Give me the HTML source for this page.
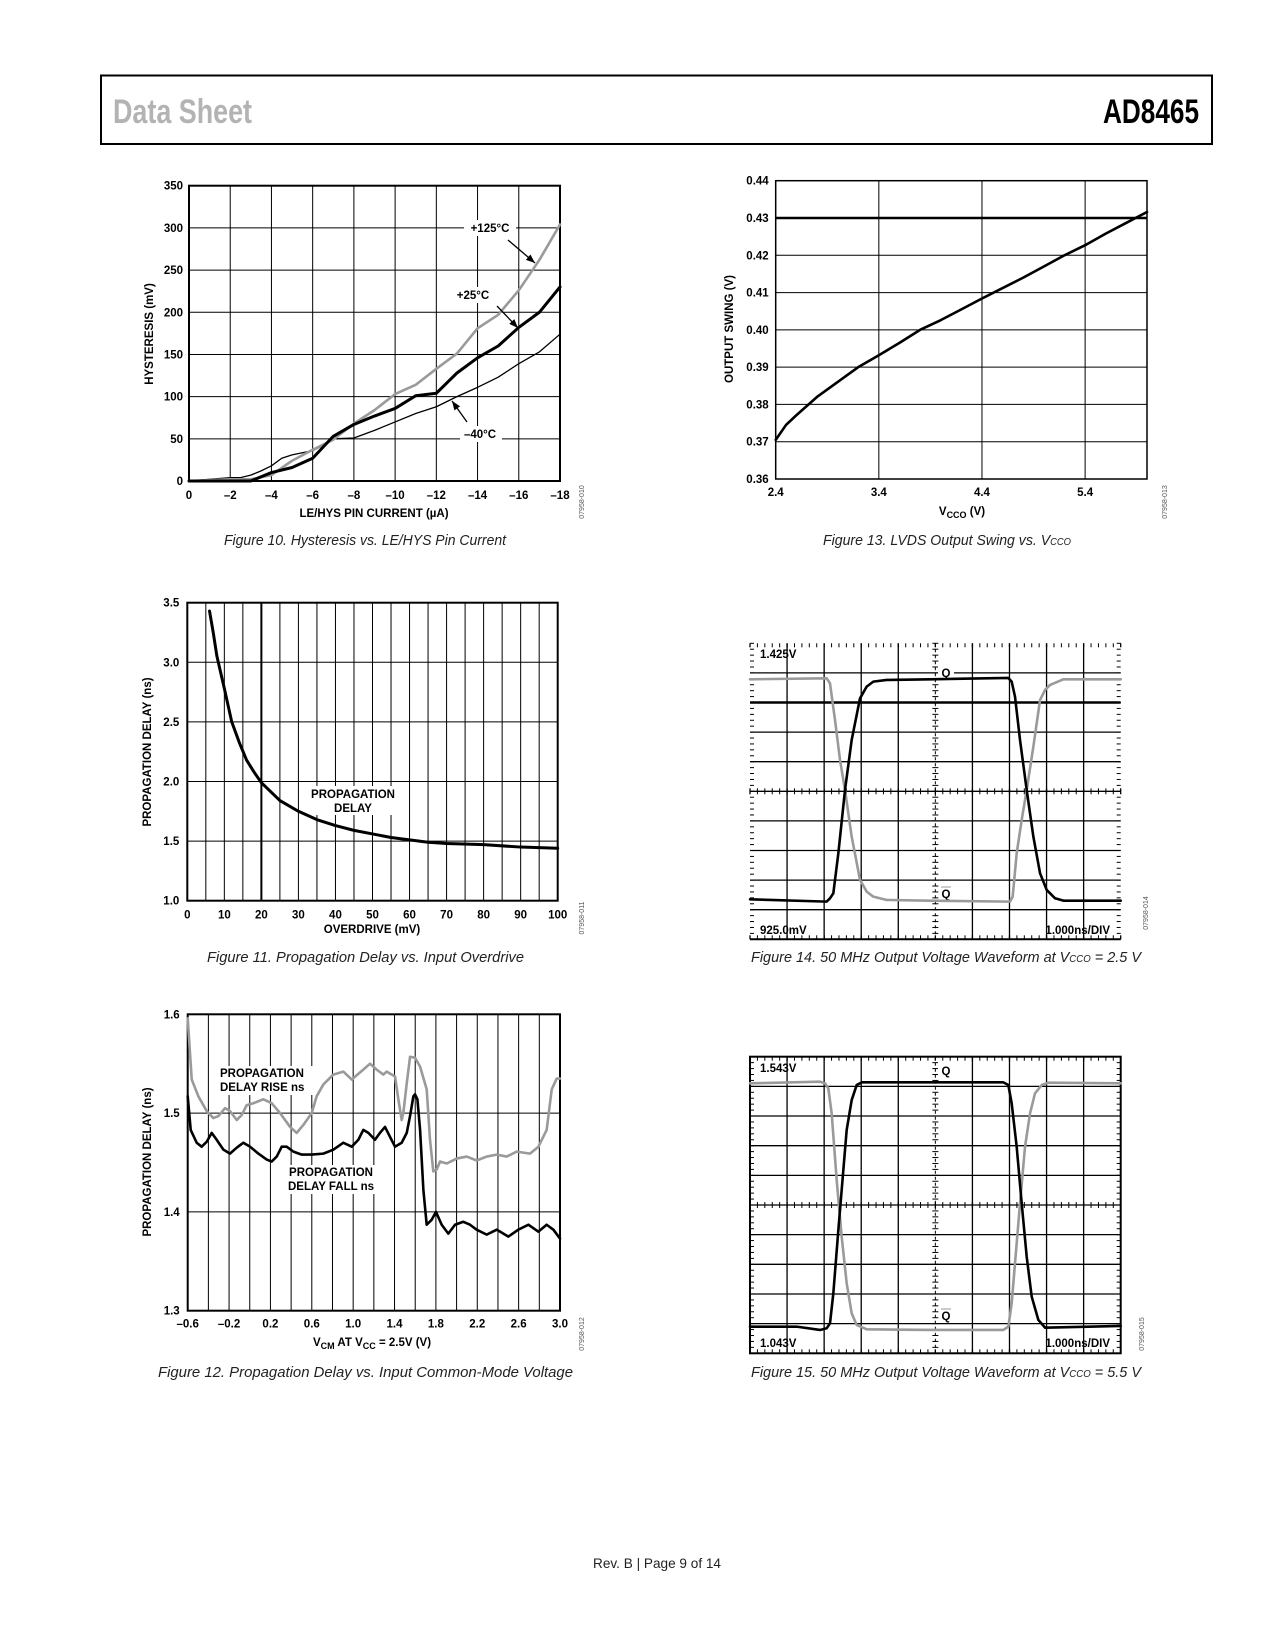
<!DOCTYPE html>
<html><head><meta charset="utf-8"><title>AD8465 Data Sheet page 9</title>
<style>
html,body{margin:0;padding:0;background:#fff;}
svg{display:block;}
.tk{font-family:"Liberation Sans",sans-serif;font-weight:bold;font-size:11.5px;fill:#000;}
.ttl{font-family:"Liberation Sans",sans-serif;font-weight:bold;font-size:11.5px;fill:#000;}
.cap{font-family:"Liberation Sans Narrow","Liberation Sans",sans-serif;font-style:italic;font-size:15px;fill:#222;}
.pn{font-family:"Liberation Sans",sans-serif;font-size:7px;fill:#555;}
</style></head>
<body>
<svg id="page" width="1275" height="1650" viewBox="0 0 1275 1650" xmlns="http://www.w3.org/2000/svg">
  <rect x="0" y="0" width="1275" height="1650" fill="#fff"/>
  <g>
    <rect x="101" y="75.5" width="1111" height="68.5" fill="none" stroke="#000" stroke-width="2"/>
    <text x="113" y="123" font-family="Liberation Sans Narrow, Liberation Sans, sans-serif" font-weight="bold" font-size="34" fill="#b3b3b3" textLength="139" lengthAdjust="spacingAndGlyphs">Data Sheet</text>
    <text x="1103" y="123" font-family="Liberation Sans Narrow, Liberation Sans, sans-serif" font-weight="bold" font-size="34" fill="#000" textLength="96" lengthAdjust="spacingAndGlyphs">AD8465</text>
  </g>

  <g id="fig10"></g>
  <g id="fig13"></g>
  <g id="fig11"></g>
  <g id="fig12"></g>
  <g id="fig14"></g>
  <g id="fig15"></g>

  <!-- axis titles -->
  <text class="ttl" x="0" y="0" text-anchor="middle" transform="translate(153,334) rotate(-90)">HYSTERESIS (mV)</text>
  <text class="ttl" x="374" y="517" text-anchor="middle">LE/HYS PIN CURRENT (µA)</text>
  <text class="ttl" x="0" y="0" text-anchor="middle" transform="translate(733,329) rotate(-90)">OUTPUT SWING (V)</text>
  <text class="ttl" x="962" y="515" text-anchor="middle">V<tspan font-size="9" dy="3">CCO</tspan><tspan dy="-3"> (V)</tspan></text>
  <text class="ttl" x="0" y="0" text-anchor="middle" transform="translate(151,752) rotate(-90)">PROPAGATION DELAY (ns)</text>
  <text class="ttl" x="372" y="933" text-anchor="middle">OVERDRIVE (mV)</text>
  <text class="ttl" x="0" y="0" text-anchor="middle" transform="translate(151,1162) rotate(-90)">PROPAGATION DELAY (ns)</text>
  <text class="ttl" x="372" y="1346" text-anchor="middle">V<tspan font-size="9" dy="3">CM</tspan><tspan dy="-3"> AT V</tspan><tspan font-size="9" dy="3">CC</tspan><tspan dy="-3"> = 2.5V (V)</tspan></text>

  <!-- captions -->
  <text class="cap" x="224" y="545" textLength="282" lengthAdjust="spacingAndGlyphs">Figure 10. Hysteresis vs. LE/HYS Pin Current</text>
  <text class="cap" x="823" y="545" textLength="248" lengthAdjust="spacingAndGlyphs">Figure 13. LVDS Output Swing vs. V<tspan font-size="10">CCO</tspan></text>
  <text class="cap" x="207" y="962" textLength="317" lengthAdjust="spacingAndGlyphs">Figure 11. Propagation Delay vs. Input Overdrive</text>
  <text class="cap" x="751" y="962" textLength="390" lengthAdjust="spacingAndGlyphs">Figure 14. 50 MHz Output Voltage Waveform at V<tspan font-size="10">CCO</tspan> = 2.5 V</text>
  <text class="cap" x="158" y="1377" textLength="415" lengthAdjust="spacingAndGlyphs">Figure 12. Propagation Delay vs. Input Common-Mode Voltage</text>
  <text class="cap" x="751" y="1377" textLength="390" lengthAdjust="spacingAndGlyphs">Figure 15. 50 MHz Output Voltage Waveform at V<tspan font-size="10">CCO</tspan> = 5.5 V</text>

  <!-- part codes -->
  <text class="pn" transform="translate(584,502) rotate(-90)" text-anchor="middle">07958-010</text>
  <text class="pn" transform="translate(1167,502) rotate(-90)" text-anchor="middle">07958-013</text>
  <text class="pn" transform="translate(584,918) rotate(-90)" text-anchor="middle">07958-011</text>
  <text class="pn" transform="translate(1148,913) rotate(-90)" text-anchor="middle">07958-014</text>
  <text class="pn" transform="translate(584,1334) rotate(-90)" text-anchor="middle">07958-012</text>
  <text class="pn" transform="translate(1144,1334) rotate(-90)" text-anchor="middle">07958-015</text>

  <text x="657" y="1568" text-anchor="middle" font-family="Liberation Sans Narrow, Liberation Sans, sans-serif" font-size="14" fill="#222" textLength="128" lengthAdjust="spacingAndGlyphs">Rev. B | Page 9 of 14</text>
</svg>

<script>
// ---------- Figure 10 data ----------
const f10Current125 = [0,-2,-3,-4,-5,-6,-7,-8,-9,-10,-11,-12,-13,-14,-15,-16,-17,-18];
const f10Hys125 = [0,2,2,7,24,37,49,68,84,103,114,133,151,181,197,226,262,304];
const f10Current25 = [0,-1,-2,-3,-3.5,-4,-5,-6,-6.5,-7,-8,-9,-10,-11,-12,-13,-14,-15,-16,-17,-18];
const f10Hys25 = [0,0,0,0,5,10,16,27,40,53,67,77,86,101,104,128,146,160,182,200,230];
const f10CurrentM40 = [0,-1,-2,-2.5,-3,-3.5,-4,-4.5,-5,-6,-6.5,-7,-8,-9,-10,-11,-12,-13,-14,-15,-16,-17,-18];
const f10HysM40 = [0,2,4,4,7,12,18,27,31,36,42,50,51,60,70,80,88,100,111,123,139,153,174];
const f10XTicks = [0,-2,-4,-6,-8,-10,-12,-14,-16,-18];
const f10YTicks = [0,50,100,150,200,250,300,350];

// ---------- Figure 13 data ----------
const f13Vcco = [2.4,2.5,2.6,2.8,3.0,3.2,3.4,3.6,3.8,4.0,4.2,4.4,4.6,4.8,5.0,5.2,5.4,5.6,5.8,6.0];
const f13Swing = [0.3705,0.3745,0.3771,0.382,0.386,0.390,0.3932,0.3965,0.400,0.4026,0.4055,0.4084,0.4112,0.4140,0.4170,0.420,0.4227,0.4258,0.4287,0.4316];
const f13XTicks = [2.4,3.4,4.4,5.4];
const f13YTicks = [0.36,0.37,0.38,0.39,0.40,0.41,0.42,0.43,0.44];

// ---------- Figure 11 data ----------
const f11Overdrive = [6,7,8,10,12,14,16,18,20,25,30,35,40,45,50,55,60,65,70,80,90,100];
const f11Delay = [3.43,3.25,3.05,2.78,2.50,2.33,2.18,2.08,1.99,1.84,1.75,1.68,1.63,1.59,1.56,1.53,1.51,1.49,1.48,1.47,1.45,1.44];
const f11XTicks = [0,10,20,30,40,50,60,70,80,90,100];
const f11YTicks = [1.0,1.5,2.0,2.5,3.0,3.5];

// ---------- Figure 12 data ----------
const f12RiseV = [-0.6,-0.561,-0.497,-0.416,-0.352,-0.303,-0.239,-0.191,-0.126,-0.078,-0.03,0.035,0.132,0.212,0.293,0.39,0.454,0.518,0.599,0.647,0.712,0.808,0.905,0.986,1.098,1.163,1.227,1.292,1.324,1.405,1.437,1.469,1.485,1.518,1.55,1.598,1.647,1.711,1.743,1.775,1.808,1.84,1.904,2.001,2.098,2.194,2.291,2.388,2.484,2.581,2.71,2.791,2.871,2.92,2.968,3.0];
const f12Rise = [1.596,1.534,1.517,1.502,1.495,1.497,1.505,1.502,1.493,1.498,1.508,1.510,1.514,1.51,1.5,1.486,1.48,1.488,1.5,1.517,1.529,1.539,1.542,1.534,1.544,1.55,1.544,1.539,1.542,1.537,1.514,1.493,1.5,1.53,1.557,1.556,1.547,1.524,1.473,1.441,1.443,1.451,1.449,1.454,1.456,1.452,1.456,1.458,1.456,1.461,1.459,1.466,1.483,1.524,1.535,1.535];
const f12FallV = [-0.6,-0.571,-0.513,-0.465,-0.416,-0.368,-0.32,-0.255,-0.191,-0.126,-0.062,0.003,0.083,0.164,0.212,0.261,0.309,0.357,0.422,0.502,0.599,0.712,0.808,0.905,0.986,1.05,1.098,1.147,1.211,1.259,1.308,1.356,1.405,1.469,1.518,1.55,1.582,1.598,1.621,1.647,1.679,1.711,1.759,1.801,1.856,1.92,1.985,2.065,2.13,2.194,2.291,2.388,2.501,2.597,2.694,2.791,2.871,2.936,3.0];
const f12Fall = [1.517,1.483,1.47,1.466,1.471,1.48,1.473,1.463,1.459,1.465,1.47,1.466,1.459,1.453,1.451,1.456,1.466,1.466,1.461,1.458,1.458,1.459,1.463,1.47,1.466,1.473,1.483,1.48,1.473,1.48,1.486,1.476,1.466,1.47,1.48,1.497,1.517,1.519,1.514,1.483,1.422,1.387,1.392,1.4,1.387,1.378,1.387,1.39,1.387,1.382,1.377,1.382,1.375,1.382,1.387,1.38,1.387,1.382,1.373];
const f12XTicks = [-0.6,-0.2,0.2,0.6,1.0,1.4,1.8,2.2,2.6,3.0];
const f12XTickText = ['–0.6','–0.2','0.2','0.6','1.0','1.4','1.8','2.2','2.6','3.0'];
const f12YTicks = [1.3,1.4,1.5,1.6];

// ---------- Figure 14 data (time in ns from left edge, level in divisions) ----------
const f14QTime = [0,2.068,2.158,2.248,2.383,2.563,2.743,2.968,3.147,3.327,3.687,4.856,5.755,6.969,7.059,7.149,7.284,7.464,7.644,7.824,8.004,8.228,8.453,10];
const f14QLevel = [1.351,1.273,1.385,1.554,2.905,5.045,6.734,8.142,8.536,8.705,8.761,8.784,8.806,8.829,8.705,8.198,6.734,5.045,3.468,2.23,1.667,1.385,1.306,1.306];
const f14QbTime = [0,2.068,2.158,2.293,2.428,2.563,2.743,2.968,3.147,3.327,3.687,4.856,7.014,7.086,7.194,7.329,7.464,7.644,7.824,7.959,8.094,8.453,10];
const f14QbLevel = [8.784,8.818,8.649,7.41,6.059,5.045,3.468,2.005,1.61,1.441,1.329,1.306,1.273,1.441,2.905,4.032,5.045,6.509,8.086,8.423,8.592,8.784,8.784];

// ---------- Figure 15 data ----------
const f15QTime = [0,1.259,1.888,2.068,2.158,2.248,2.383,2.518,2.608,2.743,2.878,3.013,4.856,6.835,6.969,7.059,7.194,7.329,7.464,7.599,7.779,7.959,10];
const f15QLevel = [0.899,0.899,0.787,0.843,1.011,2.022,4.157,6.18,7.528,8.539,9.045,9.135,9.135,9.135,9.045,8.427,6.966,5.056,3.258,1.91,1.124,0.865,0.921];
const f15QbTime = [0,1.888,2.023,2.113,2.203,2.338,2.473,2.608,2.743,2.878,3.147,4.856,6.835,6.969,7.059,7.149,7.284,7.419,7.554,7.689,7.869,8.049,10];
const f15QbLevel = [9.101,9.157,9.101,8.933,8.09,5.843,3.933,2.36,1.348,0.955,0.809,0.787,0.787,0.899,1.685,3.034,5.056,6.966,8.09,8.764,9.045,9.124,9.101];

const NS = 'http://www.w3.org/2000/svg';
function mk(tag, attrs, parent){
  const e = document.createElementNS(NS, tag);
  for (const k in attrs) e.setAttribute(k, attrs[k]);
  parent.appendChild(e);
  return e;
}
function lin(d0,d1,r0,r1){ return v => r0 + (v-d0)*(r1-r0)/(d1-d0); }
function gridV(g, x, y0, y1, w, dash){
  const l = mk('line',{x1:x,x2:x,y1:y0,y2:y1,stroke:'#000','stroke-width':w},g);
  if (dash) l.setAttribute('stroke-dasharray', dash);
  
  
  return l;
}
function gridH(g, y, x0, x1, w){
  const l = mk('line',{x1:x0,x2:x1,y1:y,y2:y,stroke:'#000','stroke-width':w},g);
  
  
  return l;
}
function series(g, xs, ys, sx, sy, color, w, name){
  let d = '';
  for (let i=0;i<xs.length;i++) d += (i?'L':'M') + sx(xs[i]).toFixed(2) + ',' + sy(ys[i]).toFixed(2);
  const p = mk('path',{d:d,fill:'none',stroke:color,'stroke-width':w,'stroke-linejoin':'round','stroke-linecap':'round'},g);
  
  
  return p;
}
function label(g, x, y, txt, anchor, cls, name){
  const t = mk('text',{x:x,y:y,'text-anchor':anchor,'class':cls||'tk'},g);
  t.textContent = txt;
  
  
  return t;
}
function frame(g, x0, y0, x1, y1, w){
  const r = mk('rect',{x:x0,y:y0,width:x1-x0,height:y1-y0,fill:'none',stroke:'#000','stroke-width':w},g);
  
  
}
function whiteBox(g, x, y, w, h){
  const r = mk('rect',{x:x,y:y,width:w,height:h,fill:'#fff'},g);
  
  
}
function fmtMinus(v){ return v < 0 ? '–' + Math.abs(v) : String(v); }

// ===== Figure 10 =====
(function(){
  const g = document.getElementById('fig10');
  const L=189,R=560,T=185.7,B=481;
  const sx = lin(0,-18,L,R), sy = lin(0,350,B,T);
  for (let v=-2; v>-18; v-=2) gridV(g, sx(v), T, B, 1);
  f10YTicks.forEach(v => { if (v>0 && v<350) gridH(g, sy(v), L, R, 1); });
  frame(g, L, T, R, B, 2);
  f10YTicks.forEach(v => label(g, L-6, sy(v)+4, String(v), 'end', 'tk', 'y-tick-label'));
  f10XTicks.forEach(v => label(g, sx(v), B+18, fmtMinus(v), 'middle', 'tk', 'x-tick-label'));
  whiteBox(g, 464, 220, 52, 16);
  label(g, 490, 232, '+125°C', 'middle', 'tk', 'label-plus125c');
  whiteBox(g, 452, 287, 42, 16);
  label(g, 473, 299, '+25°C', 'middle', 'tk', 'label-plus25c');
  whiteBox(g, 460, 426, 42, 16);
  label(g, 480, 438, '–40°C', 'middle', 'tk', 'label-minus40c');
  series(g, f10CurrentM40, f10HysM40, sx, sy, '#000', 1.3, 'series-minus40c');
  series(g, f10Current125, f10Hys125, sx, sy, '#9a9a9a', 2.6, 'series-plus125c');
  series(g, f10Current25, f10Hys25, sx, sy, '#000', 3, 'series-plus25c');
  const arrows = [[508,240,535,263],[497,306,518,328],[467,422,452,401]];
  arrows.forEach(a => {
    const ln = mk('line',{x1:a[0],y1:a[1],x2:a[2],y2:a[3],stroke:'#000','stroke-width':1.3},g);
    
    
    const ang = Math.atan2(a[3]-a[1], a[2]-a[0]);
    const hx = a[2], hy = a[3], s = 9, wd = 3.5;
    const bx = hx - s*Math.cos(ang), by = hy - s*Math.sin(ang);
    const pts = hx+','+hy+' '+(bx+wd*Math.sin(ang))+','+(by-wd*Math.cos(ang))+' '+(bx-wd*Math.sin(ang))+','+(by+wd*Math.cos(ang));
    const hd = mk('polygon',{points:pts,fill:'#000'},g);
    
    
  });
})();

// ===== Figure 13 =====
(function(){
  const g = document.getElementById('fig13');
  const L=775.7,R=1147,T=180.7,B=479;
  const sx = lin(2.4,6.0,L,R), sy = lin(0.36,0.44,B,T);
  f13XTicks.forEach(v => { if (v>2.4) gridV(g, sx(v), T, B, 1); });
  f13YTicks.forEach((v,i) => { if (i>0 && i<f13YTicks.length-1) gridH(g, sy(v), L, R, Math.abs(v-0.43)<1e-6 ? 2.5 : 1); });
  frame(g, L, T, R, B, 1.5);
  f13YTicks.forEach(v => label(g, L-7, sy(v)+4, v.toFixed(2), 'end', 'tk', 'y-tick-label'));
  f13XTicks.forEach(v => label(g, sx(v), B+17, v.toFixed(1), 'middle', 'tk', 'x-tick-label'));
  series(g, f13Vcco, f13Swing, sx, sy, '#000', 2.6, 'series-output-swing');
})();

// ===== Figure 11 =====
(function(){
  const g = document.getElementById('fig11');
  const L=187.3,R=557.7,T=602.7,B=900.7;
  const sx = lin(0,100,L,R), sy = lin(1,3.5,B,T);
  for (let v=5; v<100; v+=5) gridV(g, sx(v), T, B, v===20 ? 2 : 1);
  f11YTicks.forEach((v,i) => { if (i>0 && i<f11YTicks.length-1) gridH(g, sy(v), L, R, 1); });
  frame(g, L, T, R, B, 2);
  f11YTicks.forEach(v => label(g, L-8, sy(v)+4, v.toFixed(1), 'end', 'tk', 'y-tick-label'));
  f11XTicks.forEach(v => label(g, sx(v), B+18, String(v), 'middle', 'tk', 'x-tick-label'));
  whiteBox(g, 303, 786, 100, 29);
  label(g, 353, 798, 'PROPAGATION', 'middle', 'tk', 'label-propagation-delay');
  label(g, 353, 812, 'DELAY', 'middle', 'tk', 'label-propagation-delay-line2');
  series(g, f11Overdrive, f11Delay, sx, sy, '#000', 3, 'series-propagation-delay');
})();

// ===== Figure 12 =====
(function(){
  const g = document.getElementById('fig12');
  const L=187.7,R=560,T=1014.3,B=1310.7;
  const sx = lin(-0.6,3.0,L,R), sy = lin(1.3,1.6,B,T);
  for (let i=1;i<18;i++) gridV(g, sx(-0.6+i*0.2), T, B, 1);
  f12YTicks.forEach((v,i) => { if (i>0 && i<f12YTicks.length-1) gridH(g, sy(v), L, R, 1); });
  frame(g, L, T, R, B, 2);
  f12YTicks.forEach(v => label(g, L-8, sy(v)+4, v.toFixed(1), 'end', 'tk', 'y-tick-label'));
  f12XTicks.forEach((v,i) => label(g, sx(v), B+17, f12XTickText[i], 'middle', 'tk', 'x-tick-label'));
  whiteBox(g, 218, 1066, 96, 29);
  label(g, 220, 1077, 'PROPAGATION', 'start', 'tk', 'label-rise');
  label(g, 220, 1091, 'DELAY RISE ns', 'start', 'tk', 'label-rise-line2');
  whiteBox(g, 281, 1165, 100, 29);
  label(g, 331, 1176, 'PROPAGATION', 'middle', 'tk', 'label-fall');
  label(g, 331, 1190, 'DELAY FALL ns', 'middle', 'tk', 'label-fall-line2');
  series(g, f12RiseV, f12Rise, sx, sy, '#9a9a9a', 2.6, 'series-delay-rise');
  series(g, f12FallV, f12Fall, sx, sy, '#000', 2.6, 'series-delay-fall');
})();

// ===== Scope figures =====
function scope(id, T, B, fullFrame, thickRow, labels, qt, ql, qbt, qbl){
  const g = document.getElementById(id);
  const L=750,R=1120.7;
  const sx = lin(0,10,L,R), sy = lin(0,10,B,T);
  for (let i=1;i<10;i++){
    if (i===5) gridV(g, sx(i), T, B, 1, '3,3');
    else gridV(g, sx(i), T, B, 1.3);
  }
  for (let i=1;i<10;i++) gridH(g, sy(i), L, R, i===thickRow ? 2.6 : 1.3);
  if (fullFrame) frame(g, L, T, R, B, 2);
  else gridH(g, B, L, R, 2);
  // minor ticks
  for (let k=0;k<=50;k++){
    const x = sx(k*0.2), big = k%5===0;
    [[T,T+4],[B-4,B],[sy(5)-3,sy(5)+3]].forEach(s => {
      const t = mk('line',{x1:x,x2:x,y1:s[0],y2:s[1],stroke:'#000','stroke-width':big?1.3:1},g);
      
      
    });
    const y = sy(k*0.2);
    [[L,L+4],[R-4,R],[sx(5)-3,sx(5)+3]].forEach(s => {
      const t = mk('line',{x1:s[0],x2:s[1],y1:y,y2:y,stroke:'#000','stroke-width':1},g);
      
      
    });
  }
  whiteBox(g, 938, labels.qy-13, 16, 16);
  label(g, 946, labels.qy, 'Q', 'middle', 'tk', 'label-q');
  label(g, 946, labels.qby, 'Q', 'middle', 'tk', 'label-q-bar').setAttribute('fill', '#999');
  const ob = mk('line',{x1:941,x2:951,y1:labels.qby-11,y2:labels.qby-11,stroke:'#999','stroke-width':1},g);
  
  
  label(g, 760, labels.topy, labels.top, 'start', 'tk', 'top-voltage-label');
  label(g, 760, labels.boty, labels.bot, 'start', 'tk', 'bottom-voltage-label');
  label(g, 1110, labels.boty, '1.000ns/DIV', 'end', 'tk', 'timebase-label');
  series(g, qbt, qbl, sx, sy, '#9a9a9a', 2.6, 'series-q-bar');
  series(g, qt, ql, sx, sy, '#000', 2.6, 'series-q');
}
scope('fig14', 643.3, 939.3, false, 8,
  {qy:677, qby:898, top:'1.425V', topy:658, bot:'925.0mV', boty:934},
  f14QTime, f14QLevel, f14QbTime, f14QbLevel);
scope('fig15', 1056.7, 1353.3, true, -1,
  {qy:1075, qby:1320, top:'1.543V', topy:1072, bot:'1.043V', boty:1347},
  f15QTime, f15QLevel, f15QbTime, f15QbLevel);
</script>
</body></html>
